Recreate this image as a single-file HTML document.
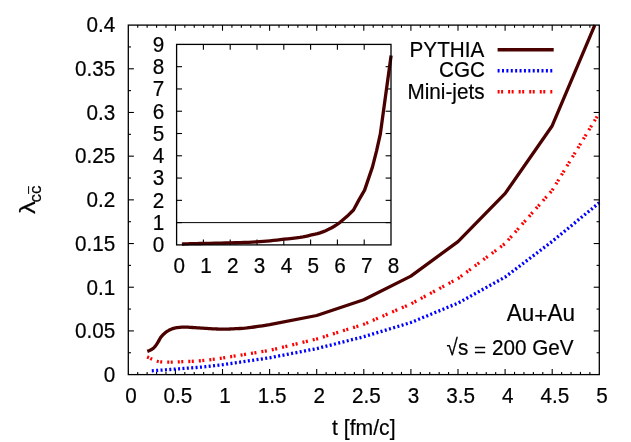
<!DOCTYPE html>
<html><head><meta charset="utf-8"><title>plot</title>
<style>
html,body{margin:0;padding:0;background:#fff;}
body{width:631px;height:442px;overflow:hidden;}
svg{display:block;will-change:transform;}
text{font-family:"Liberation Sans",sans-serif;fill:#000;stroke:#000;stroke-width:0.2px;}
</style></head><body>
<svg width="631" height="442" viewBox="0 0 631 442">
<rect x="0" y="0" width="631" height="442" fill="#fff"/>
<line x1="137.72" y1="374.60" x2="137.72" y2="371.90" stroke="#000" stroke-width="1.1"/>
<line x1="137.72" y1="25.10" x2="137.72" y2="27.80" stroke="#000" stroke-width="1.1"/>
<line x1="147.14" y1="374.60" x2="147.14" y2="371.90" stroke="#000" stroke-width="1.1"/>
<line x1="147.14" y1="25.10" x2="147.14" y2="27.80" stroke="#000" stroke-width="1.1"/>
<line x1="156.56" y1="374.60" x2="156.56" y2="371.90" stroke="#000" stroke-width="1.1"/>
<line x1="156.56" y1="25.10" x2="156.56" y2="27.80" stroke="#000" stroke-width="1.1"/>
<line x1="165.98" y1="374.60" x2="165.98" y2="371.90" stroke="#000" stroke-width="1.1"/>
<line x1="165.98" y1="25.10" x2="165.98" y2="27.80" stroke="#000" stroke-width="1.1"/>
<line x1="175.40" y1="374.60" x2="175.40" y2="369.00" stroke="#000" stroke-width="1.1"/>
<line x1="175.40" y1="25.10" x2="175.40" y2="30.70" stroke="#000" stroke-width="1.1"/>
<line x1="184.82" y1="374.60" x2="184.82" y2="371.90" stroke="#000" stroke-width="1.1"/>
<line x1="184.82" y1="25.10" x2="184.82" y2="27.80" stroke="#000" stroke-width="1.1"/>
<line x1="194.24" y1="374.60" x2="194.24" y2="371.90" stroke="#000" stroke-width="1.1"/>
<line x1="194.24" y1="25.10" x2="194.24" y2="27.80" stroke="#000" stroke-width="1.1"/>
<line x1="203.66" y1="374.60" x2="203.66" y2="371.90" stroke="#000" stroke-width="1.1"/>
<line x1="203.66" y1="25.10" x2="203.66" y2="27.80" stroke="#000" stroke-width="1.1"/>
<line x1="213.08" y1="374.60" x2="213.08" y2="371.90" stroke="#000" stroke-width="1.1"/>
<line x1="213.08" y1="25.10" x2="213.08" y2="27.80" stroke="#000" stroke-width="1.1"/>
<line x1="222.50" y1="374.60" x2="222.50" y2="369.00" stroke="#000" stroke-width="1.1"/>
<line x1="222.50" y1="25.10" x2="222.50" y2="30.70" stroke="#000" stroke-width="1.1"/>
<line x1="231.92" y1="374.60" x2="231.92" y2="371.90" stroke="#000" stroke-width="1.1"/>
<line x1="231.92" y1="25.10" x2="231.92" y2="27.80" stroke="#000" stroke-width="1.1"/>
<line x1="241.34" y1="374.60" x2="241.34" y2="371.90" stroke="#000" stroke-width="1.1"/>
<line x1="241.34" y1="25.10" x2="241.34" y2="27.80" stroke="#000" stroke-width="1.1"/>
<line x1="250.76" y1="374.60" x2="250.76" y2="371.90" stroke="#000" stroke-width="1.1"/>
<line x1="250.76" y1="25.10" x2="250.76" y2="27.80" stroke="#000" stroke-width="1.1"/>
<line x1="260.18" y1="374.60" x2="260.18" y2="371.90" stroke="#000" stroke-width="1.1"/>
<line x1="260.18" y1="25.10" x2="260.18" y2="27.80" stroke="#000" stroke-width="1.1"/>
<line x1="269.60" y1="374.60" x2="269.60" y2="369.00" stroke="#000" stroke-width="1.1"/>
<line x1="269.60" y1="25.10" x2="269.60" y2="30.70" stroke="#000" stroke-width="1.1"/>
<line x1="279.02" y1="374.60" x2="279.02" y2="371.90" stroke="#000" stroke-width="1.1"/>
<line x1="279.02" y1="25.10" x2="279.02" y2="27.80" stroke="#000" stroke-width="1.1"/>
<line x1="288.44" y1="374.60" x2="288.44" y2="371.90" stroke="#000" stroke-width="1.1"/>
<line x1="288.44" y1="25.10" x2="288.44" y2="27.80" stroke="#000" stroke-width="1.1"/>
<line x1="297.86" y1="374.60" x2="297.86" y2="371.90" stroke="#000" stroke-width="1.1"/>
<line x1="297.86" y1="25.10" x2="297.86" y2="27.80" stroke="#000" stroke-width="1.1"/>
<line x1="307.28" y1="374.60" x2="307.28" y2="371.90" stroke="#000" stroke-width="1.1"/>
<line x1="307.28" y1="25.10" x2="307.28" y2="27.80" stroke="#000" stroke-width="1.1"/>
<line x1="316.70" y1="374.60" x2="316.70" y2="369.00" stroke="#000" stroke-width="1.1"/>
<line x1="316.70" y1="25.10" x2="316.70" y2="30.70" stroke="#000" stroke-width="1.1"/>
<line x1="326.12" y1="374.60" x2="326.12" y2="371.90" stroke="#000" stroke-width="1.1"/>
<line x1="326.12" y1="25.10" x2="326.12" y2="27.80" stroke="#000" stroke-width="1.1"/>
<line x1="335.54" y1="374.60" x2="335.54" y2="371.90" stroke="#000" stroke-width="1.1"/>
<line x1="335.54" y1="25.10" x2="335.54" y2="27.80" stroke="#000" stroke-width="1.1"/>
<line x1="344.96" y1="374.60" x2="344.96" y2="371.90" stroke="#000" stroke-width="1.1"/>
<line x1="344.96" y1="25.10" x2="344.96" y2="27.80" stroke="#000" stroke-width="1.1"/>
<line x1="354.38" y1="374.60" x2="354.38" y2="371.90" stroke="#000" stroke-width="1.1"/>
<line x1="354.38" y1="25.10" x2="354.38" y2="27.80" stroke="#000" stroke-width="1.1"/>
<line x1="363.80" y1="374.60" x2="363.80" y2="369.00" stroke="#000" stroke-width="1.1"/>
<line x1="363.80" y1="25.10" x2="363.80" y2="30.70" stroke="#000" stroke-width="1.1"/>
<line x1="373.22" y1="374.60" x2="373.22" y2="371.90" stroke="#000" stroke-width="1.1"/>
<line x1="373.22" y1="25.10" x2="373.22" y2="27.80" stroke="#000" stroke-width="1.1"/>
<line x1="382.64" y1="374.60" x2="382.64" y2="371.90" stroke="#000" stroke-width="1.1"/>
<line x1="382.64" y1="25.10" x2="382.64" y2="27.80" stroke="#000" stroke-width="1.1"/>
<line x1="392.06" y1="374.60" x2="392.06" y2="371.90" stroke="#000" stroke-width="1.1"/>
<line x1="392.06" y1="25.10" x2="392.06" y2="27.80" stroke="#000" stroke-width="1.1"/>
<line x1="401.48" y1="374.60" x2="401.48" y2="371.90" stroke="#000" stroke-width="1.1"/>
<line x1="401.48" y1="25.10" x2="401.48" y2="27.80" stroke="#000" stroke-width="1.1"/>
<line x1="410.90" y1="374.60" x2="410.90" y2="369.00" stroke="#000" stroke-width="1.1"/>
<line x1="410.90" y1="25.10" x2="410.90" y2="30.70" stroke="#000" stroke-width="1.1"/>
<line x1="420.32" y1="374.60" x2="420.32" y2="371.90" stroke="#000" stroke-width="1.1"/>
<line x1="420.32" y1="25.10" x2="420.32" y2="27.80" stroke="#000" stroke-width="1.1"/>
<line x1="429.74" y1="374.60" x2="429.74" y2="371.90" stroke="#000" stroke-width="1.1"/>
<line x1="429.74" y1="25.10" x2="429.74" y2="27.80" stroke="#000" stroke-width="1.1"/>
<line x1="439.16" y1="374.60" x2="439.16" y2="371.90" stroke="#000" stroke-width="1.1"/>
<line x1="439.16" y1="25.10" x2="439.16" y2="27.80" stroke="#000" stroke-width="1.1"/>
<line x1="448.58" y1="374.60" x2="448.58" y2="371.90" stroke="#000" stroke-width="1.1"/>
<line x1="448.58" y1="25.10" x2="448.58" y2="27.80" stroke="#000" stroke-width="1.1"/>
<line x1="458.00" y1="374.60" x2="458.00" y2="369.00" stroke="#000" stroke-width="1.1"/>
<line x1="458.00" y1="25.10" x2="458.00" y2="30.70" stroke="#000" stroke-width="1.1"/>
<line x1="467.42" y1="374.60" x2="467.42" y2="371.90" stroke="#000" stroke-width="1.1"/>
<line x1="467.42" y1="25.10" x2="467.42" y2="27.80" stroke="#000" stroke-width="1.1"/>
<line x1="476.84" y1="374.60" x2="476.84" y2="371.90" stroke="#000" stroke-width="1.1"/>
<line x1="476.84" y1="25.10" x2="476.84" y2="27.80" stroke="#000" stroke-width="1.1"/>
<line x1="486.26" y1="374.60" x2="486.26" y2="371.90" stroke="#000" stroke-width="1.1"/>
<line x1="486.26" y1="25.10" x2="486.26" y2="27.80" stroke="#000" stroke-width="1.1"/>
<line x1="495.68" y1="374.60" x2="495.68" y2="371.90" stroke="#000" stroke-width="1.1"/>
<line x1="495.68" y1="25.10" x2="495.68" y2="27.80" stroke="#000" stroke-width="1.1"/>
<line x1="505.10" y1="374.60" x2="505.10" y2="369.00" stroke="#000" stroke-width="1.1"/>
<line x1="505.10" y1="25.10" x2="505.10" y2="30.70" stroke="#000" stroke-width="1.1"/>
<line x1="514.52" y1="374.60" x2="514.52" y2="371.90" stroke="#000" stroke-width="1.1"/>
<line x1="514.52" y1="25.10" x2="514.52" y2="27.80" stroke="#000" stroke-width="1.1"/>
<line x1="523.94" y1="374.60" x2="523.94" y2="371.90" stroke="#000" stroke-width="1.1"/>
<line x1="523.94" y1="25.10" x2="523.94" y2="27.80" stroke="#000" stroke-width="1.1"/>
<line x1="533.36" y1="374.60" x2="533.36" y2="371.90" stroke="#000" stroke-width="1.1"/>
<line x1="533.36" y1="25.10" x2="533.36" y2="27.80" stroke="#000" stroke-width="1.1"/>
<line x1="542.78" y1="374.60" x2="542.78" y2="371.90" stroke="#000" stroke-width="1.1"/>
<line x1="542.78" y1="25.10" x2="542.78" y2="27.80" stroke="#000" stroke-width="1.1"/>
<line x1="552.20" y1="374.60" x2="552.20" y2="369.00" stroke="#000" stroke-width="1.1"/>
<line x1="552.20" y1="25.10" x2="552.20" y2="30.70" stroke="#000" stroke-width="1.1"/>
<line x1="561.62" y1="374.60" x2="561.62" y2="371.90" stroke="#000" stroke-width="1.1"/>
<line x1="561.62" y1="25.10" x2="561.62" y2="27.80" stroke="#000" stroke-width="1.1"/>
<line x1="571.04" y1="374.60" x2="571.04" y2="371.90" stroke="#000" stroke-width="1.1"/>
<line x1="571.04" y1="25.10" x2="571.04" y2="27.80" stroke="#000" stroke-width="1.1"/>
<line x1="580.46" y1="374.60" x2="580.46" y2="371.90" stroke="#000" stroke-width="1.1"/>
<line x1="580.46" y1="25.10" x2="580.46" y2="27.80" stroke="#000" stroke-width="1.1"/>
<line x1="589.88" y1="374.60" x2="589.88" y2="371.90" stroke="#000" stroke-width="1.1"/>
<line x1="589.88" y1="25.10" x2="589.88" y2="27.80" stroke="#000" stroke-width="1.1"/>
<line x1="128.30" y1="352.76" x2="131.00" y2="352.76" stroke="#000" stroke-width="1.1"/>
<line x1="599.30" y1="352.76" x2="596.60" y2="352.76" stroke="#000" stroke-width="1.1"/>
<line x1="128.30" y1="330.91" x2="133.90" y2="330.91" stroke="#000" stroke-width="1.1"/>
<line x1="599.30" y1="330.91" x2="593.70" y2="330.91" stroke="#000" stroke-width="1.1"/>
<line x1="128.30" y1="309.07" x2="131.00" y2="309.07" stroke="#000" stroke-width="1.1"/>
<line x1="599.30" y1="309.07" x2="596.60" y2="309.07" stroke="#000" stroke-width="1.1"/>
<line x1="128.30" y1="287.23" x2="133.90" y2="287.23" stroke="#000" stroke-width="1.1"/>
<line x1="599.30" y1="287.23" x2="593.70" y2="287.23" stroke="#000" stroke-width="1.1"/>
<line x1="128.30" y1="265.38" x2="131.00" y2="265.38" stroke="#000" stroke-width="1.1"/>
<line x1="599.30" y1="265.38" x2="596.60" y2="265.38" stroke="#000" stroke-width="1.1"/>
<line x1="128.30" y1="243.54" x2="133.90" y2="243.54" stroke="#000" stroke-width="1.1"/>
<line x1="599.30" y1="243.54" x2="593.70" y2="243.54" stroke="#000" stroke-width="1.1"/>
<line x1="128.30" y1="221.69" x2="131.00" y2="221.69" stroke="#000" stroke-width="1.1"/>
<line x1="599.30" y1="221.69" x2="596.60" y2="221.69" stroke="#000" stroke-width="1.1"/>
<line x1="128.30" y1="199.85" x2="133.90" y2="199.85" stroke="#000" stroke-width="1.1"/>
<line x1="599.30" y1="199.85" x2="593.70" y2="199.85" stroke="#000" stroke-width="1.1"/>
<line x1="128.30" y1="178.01" x2="131.00" y2="178.01" stroke="#000" stroke-width="1.1"/>
<line x1="599.30" y1="178.01" x2="596.60" y2="178.01" stroke="#000" stroke-width="1.1"/>
<line x1="128.30" y1="156.16" x2="133.90" y2="156.16" stroke="#000" stroke-width="1.1"/>
<line x1="599.30" y1="156.16" x2="593.70" y2="156.16" stroke="#000" stroke-width="1.1"/>
<line x1="128.30" y1="134.32" x2="131.00" y2="134.32" stroke="#000" stroke-width="1.1"/>
<line x1="599.30" y1="134.32" x2="596.60" y2="134.32" stroke="#000" stroke-width="1.1"/>
<line x1="128.30" y1="112.48" x2="133.90" y2="112.48" stroke="#000" stroke-width="1.1"/>
<line x1="599.30" y1="112.48" x2="593.70" y2="112.48" stroke="#000" stroke-width="1.1"/>
<line x1="128.30" y1="90.63" x2="131.00" y2="90.63" stroke="#000" stroke-width="1.1"/>
<line x1="599.30" y1="90.63" x2="596.60" y2="90.63" stroke="#000" stroke-width="1.1"/>
<line x1="128.30" y1="68.79" x2="133.90" y2="68.79" stroke="#000" stroke-width="1.1"/>
<line x1="599.30" y1="68.79" x2="593.70" y2="68.79" stroke="#000" stroke-width="1.1"/>
<line x1="128.30" y1="46.94" x2="131.00" y2="46.94" stroke="#000" stroke-width="1.1"/>
<line x1="599.30" y1="46.94" x2="596.60" y2="46.94" stroke="#000" stroke-width="1.1"/>
<path d="M151.80,370.80 L153.55,370.67 L156.06,370.49 L158.85,370.28 L161.40,370.10 L163.61,369.95 L165.72,369.80 L167.83,369.65 L170.00,369.50 L172.27,369.33 L174.60,369.16 L176.93,368.98 L179.20,368.80 L181.39,368.62 L183.54,368.44 L185.67,368.27 L187.80,368.10 L189.91,367.95 L192.01,367.81 L194.12,367.66 L196.30,367.50 L198.59,367.32 L200.94,367.12 L203.31,366.92 L205.60,366.70 L207.81,366.46 L209.96,366.21 L212.09,365.95 L214.20,365.70 L216.49,365.43 L218.89,365.14 L221.02,364.88 L222.50,364.70 L269.60,357.80 L316.70,348.60 L363.80,336.70 L410.90,322.50 L458.00,303.10 L505.10,277.10 L552.20,241.40 L599.30,202.70" fill="none" stroke="#0000ff" stroke-width="3.3" stroke-dasharray="2.0 2.39"/>
<path d="M147.10,357.00 L147.48,357.13 L148.03,357.31 L148.66,357.54 L149.30,357.80 L149.92,358.11 L150.57,358.46 L151.26,358.83 L152.00,359.20 L152.81,359.58 L153.68,359.97 L154.59,360.36 L155.50,360.70 L156.41,361.00 L157.32,361.27 L158.28,361.51 L159.30,361.70 L160.39,361.84 L161.53,361.93 L162.73,362.00 L164.00,362.05 L165.24,362.09 L166.49,362.12 L167.91,362.12 L169.70,362.10 L171.98,362.05 L174.64,361.98 L177.45,361.89 L180.20,361.80 L182.87,361.71 L185.56,361.62 L188.24,361.52 L190.90,361.40 L193.52,361.26 L196.12,361.10 L198.71,360.92 L201.30,360.70 L203.89,360.44 L206.47,360.15 L209.07,359.83 L211.70,359.50 L214.62,359.11 L217.75,358.68 L220.55,358.28 L222.50,358.00 L269.60,350.40 L316.70,339.00 L363.80,324.30 L410.90,303.90 L458.00,278.50 L505.10,243.60 L552.20,190.30 L599.30,112.90" fill="none" stroke="#ff0000" stroke-width="3.3" stroke-dasharray="2.0 1.5 2.0 5.04"/>
<path d="M147.30,351.40 L147.97,351.14 L148.93,350.77 L150.00,350.31 L151.00,349.80 L151.90,349.24 L152.78,348.62 L153.65,347.92 L154.50,347.10 L155.33,346.14 L156.14,345.05 L156.93,343.89 L157.70,342.70 L158.44,341.44 L159.14,340.11 L159.85,338.79 L160.60,337.60 L161.40,336.55 L162.23,335.59 L163.07,334.71 L163.90,333.90 L164.70,333.18 L165.47,332.54 L166.27,331.96 L167.10,331.40 L167.99,330.85 L168.91,330.32 L169.86,329.84 L170.80,329.40 L171.73,329.01 L172.66,328.67 L173.61,328.37 L174.60,328.10 L175.64,327.87 L176.72,327.69 L177.84,327.53 L179.00,327.40 L180.20,327.29 L181.43,327.19 L182.70,327.13 L184.00,327.10 L185.33,327.11 L186.69,327.16 L188.09,327.22 L189.50,327.30 L190.91,327.38 L192.32,327.48 L193.80,327.59 L195.40,327.70 L197.18,327.82 L199.09,327.94 L201.06,328.07 L203.00,328.20 L204.93,328.33 L206.88,328.46 L208.78,328.59 L210.60,328.70 L212.27,328.79 L213.84,328.88 L215.39,328.94 L217.00,329.00 L218.71,329.04 L220.47,329.08 L222.22,329.09 L223.90,329.10 L225.50,329.09 L227.05,329.08 L228.55,329.04 L230.00,329.00 L231.28,328.94 L232.44,328.88 L233.70,328.79 L235.30,328.70 L237.39,328.61 L239.81,328.51 L242.35,328.38 L244.80,328.20 L246.97,327.98 L249.02,327.71 L251.26,327.39 L254.00,327.00 L257.82,326.45 L262.38,325.77 L266.65,325.14 L269.60,324.70 L316.70,315.50 L363.80,299.80 L410.90,276.10 L458.00,241.60 L505.20,193.40 L551.90,126.30 L594.80,25.10" fill="none" stroke="#4b0000" stroke-width="3.3" stroke-linejoin="round"/>
<rect x="128.3" y="25.1" width="471.00" height="349.50" fill="none" stroke="#000" stroke-width="1.3"/>
<rect x="176.6" y="44.4" width="214.40" height="200.50" fill="#fff" stroke="none"/>
<line x1="203.40" y1="244.90" x2="203.40" y2="239.50" stroke="#000" stroke-width="1.1"/>
<line x1="203.40" y1="44.40" x2="203.40" y2="49.80" stroke="#000" stroke-width="1.1"/>
<line x1="230.20" y1="244.90" x2="230.20" y2="239.50" stroke="#000" stroke-width="1.1"/>
<line x1="230.20" y1="44.40" x2="230.20" y2="49.80" stroke="#000" stroke-width="1.1"/>
<line x1="257.00" y1="244.90" x2="257.00" y2="239.50" stroke="#000" stroke-width="1.1"/>
<line x1="257.00" y1="44.40" x2="257.00" y2="49.80" stroke="#000" stroke-width="1.1"/>
<line x1="283.80" y1="244.90" x2="283.80" y2="239.50" stroke="#000" stroke-width="1.1"/>
<line x1="283.80" y1="44.40" x2="283.80" y2="49.80" stroke="#000" stroke-width="1.1"/>
<line x1="310.60" y1="244.90" x2="310.60" y2="239.50" stroke="#000" stroke-width="1.1"/>
<line x1="310.60" y1="44.40" x2="310.60" y2="49.80" stroke="#000" stroke-width="1.1"/>
<line x1="337.40" y1="244.90" x2="337.40" y2="239.50" stroke="#000" stroke-width="1.1"/>
<line x1="337.40" y1="44.40" x2="337.40" y2="49.80" stroke="#000" stroke-width="1.1"/>
<line x1="364.20" y1="244.90" x2="364.20" y2="239.50" stroke="#000" stroke-width="1.1"/>
<line x1="364.20" y1="44.40" x2="364.20" y2="49.80" stroke="#000" stroke-width="1.1"/>
<line x1="176.60" y1="222.62" x2="182.00" y2="222.62" stroke="#000" stroke-width="1.1"/>
<line x1="391.00" y1="222.62" x2="385.60" y2="222.62" stroke="#000" stroke-width="1.1"/>
<line x1="176.60" y1="200.34" x2="182.00" y2="200.34" stroke="#000" stroke-width="1.1"/>
<line x1="391.00" y1="200.34" x2="385.60" y2="200.34" stroke="#000" stroke-width="1.1"/>
<line x1="176.60" y1="178.07" x2="182.00" y2="178.07" stroke="#000" stroke-width="1.1"/>
<line x1="391.00" y1="178.07" x2="385.60" y2="178.07" stroke="#000" stroke-width="1.1"/>
<line x1="176.60" y1="155.79" x2="182.00" y2="155.79" stroke="#000" stroke-width="1.1"/>
<line x1="391.00" y1="155.79" x2="385.60" y2="155.79" stroke="#000" stroke-width="1.1"/>
<line x1="176.60" y1="133.51" x2="182.00" y2="133.51" stroke="#000" stroke-width="1.1"/>
<line x1="391.00" y1="133.51" x2="385.60" y2="133.51" stroke="#000" stroke-width="1.1"/>
<line x1="176.60" y1="111.23" x2="182.00" y2="111.23" stroke="#000" stroke-width="1.1"/>
<line x1="391.00" y1="111.23" x2="385.60" y2="111.23" stroke="#000" stroke-width="1.1"/>
<line x1="176.60" y1="88.96" x2="182.00" y2="88.96" stroke="#000" stroke-width="1.1"/>
<line x1="391.00" y1="88.96" x2="385.60" y2="88.96" stroke="#000" stroke-width="1.1"/>
<line x1="176.60" y1="66.68" x2="182.00" y2="66.68" stroke="#000" stroke-width="1.1"/>
<line x1="391.00" y1="66.68" x2="385.60" y2="66.68" stroke="#000" stroke-width="1.1"/>
<line x1="176.60" y1="222.62" x2="391.00" y2="222.62" stroke="#000" stroke-width="1.0"/>
<path d="M181.90,244.10 L183.31,244.02 L185.33,243.91 L187.65,243.80 L190.00,243.70 L192.12,243.64 L194.21,243.60 L196.70,243.56 L200.00,243.50 L204.46,243.42 L209.77,243.32 L215.37,243.21 L220.70,243.10 L225.70,242.99 L230.63,242.87 L235.43,242.74 L240.00,242.60 L244.32,242.45 L248.44,242.29 L252.39,242.11 L256.20,241.90 L259.81,241.66 L263.23,241.41 L266.59,241.12 L270.00,240.80 L273.46,240.44 L276.92,240.04 L280.44,239.63 L284.10,239.20 L288.08,238.77 L292.28,238.34 L296.36,237.88 L300.00,237.40 L303.03,236.88 L305.65,236.33 L308.07,235.77 L310.50,235.20 L312.90,234.69 L315.20,234.22 L317.52,233.66 L320.00,232.90 L322.76,231.88 L325.69,230.66 L328.61,229.34 L331.30,228.00 L333.88,226.50 L336.41,224.84 L338.58,223.34 L340.10,222.30 L346.80,216.60 L353.50,210.00 L358.95,199.90 L364.60,190.10 L372.50,166.90 L376.50,151.10 L380.30,134.20 L391.10,55.50" fill="none" stroke="#4b0000" stroke-width="3.3" stroke-linejoin="round"/>
<rect x="176.6" y="44.4" width="214.40" height="200.50" fill="none" stroke="#000" stroke-width="1.3"/>
<line x1="497.6" y1="49.7" x2="553.7" y2="49.7" stroke="#4b0000" stroke-width="3.5"/>
<line x1="497.6" y1="70.7" x2="553.7" y2="70.7" stroke="#0000ff" stroke-width="3.5" stroke-dasharray="2.0 2.39"/>
<line x1="497.6" y1="91.8" x2="553.7" y2="91.8" stroke="#ff0000" stroke-width="3.5" stroke-dasharray="2.0 1.5 2.0 5.04"/>
<text transform="translate(130.90,402.70) scale(1,1.1)" text-anchor="middle" font-size="20.7" >0</text>
<text transform="translate(178.00,402.70) scale(1,1.1)" text-anchor="middle" font-size="20.7" >0.5</text>
<text transform="translate(225.10,402.70) scale(1,1.1)" text-anchor="middle" font-size="20.7" >1</text>
<text transform="translate(272.20,402.70) scale(1,1.1)" text-anchor="middle" font-size="20.7" >1.5</text>
<text transform="translate(319.30,402.70) scale(1,1.1)" text-anchor="middle" font-size="20.7" >2</text>
<text transform="translate(366.40,402.70) scale(1,1.1)" text-anchor="middle" font-size="20.7" >2.5</text>
<text transform="translate(413.50,402.70) scale(1,1.1)" text-anchor="middle" font-size="20.7" >3</text>
<text transform="translate(460.60,402.70) scale(1,1.1)" text-anchor="middle" font-size="20.7" >3.5</text>
<text transform="translate(507.70,402.70) scale(1,1.1)" text-anchor="middle" font-size="20.7" >4</text>
<text transform="translate(554.80,402.70) scale(1,1.1)" text-anchor="middle" font-size="20.7" >4.5</text>
<text transform="translate(601.90,402.70) scale(1,1.1)" text-anchor="middle" font-size="20.7" >5</text>
<text transform="translate(115.20,381.90) scale(1,1.1)" text-anchor="end" font-size="20.7" >0</text>
<text transform="translate(115.20,338.21) scale(1,1.1)" text-anchor="end" font-size="20.7" >0.05</text>
<text transform="translate(115.20,294.53) scale(1,1.1)" text-anchor="end" font-size="20.7" >0.1</text>
<text transform="translate(115.20,250.84) scale(1,1.1)" text-anchor="end" font-size="20.7" >0.15</text>
<text transform="translate(115.20,207.15) scale(1,1.1)" text-anchor="end" font-size="20.7" >0.2</text>
<text transform="translate(115.20,163.46) scale(1,1.1)" text-anchor="end" font-size="20.7" >0.25</text>
<text transform="translate(115.20,119.78) scale(1,1.1)" text-anchor="end" font-size="20.7" >0.3</text>
<text transform="translate(115.20,76.09) scale(1,1.1)" text-anchor="end" font-size="20.7" >0.35</text>
<text transform="translate(115.20,32.40) scale(1,1.1)" text-anchor="end" font-size="20.7" >0.4</text>
<text transform="translate(179.20,273.00) scale(1,1.1)" text-anchor="middle" font-size="20.7" >0</text>
<text transform="translate(206.00,273.00) scale(1,1.1)" text-anchor="middle" font-size="20.7" >1</text>
<text transform="translate(232.80,273.00) scale(1,1.1)" text-anchor="middle" font-size="20.7" >2</text>
<text transform="translate(259.60,273.00) scale(1,1.1)" text-anchor="middle" font-size="20.7" >3</text>
<text transform="translate(286.40,273.00) scale(1,1.1)" text-anchor="middle" font-size="20.7" >4</text>
<text transform="translate(313.20,273.00) scale(1,1.1)" text-anchor="middle" font-size="20.7" >5</text>
<text transform="translate(340.00,273.00) scale(1,1.1)" text-anchor="middle" font-size="20.7" >6</text>
<text transform="translate(366.80,273.00) scale(1,1.1)" text-anchor="middle" font-size="20.7" >7</text>
<text transform="translate(393.60,273.00) scale(1,1.1)" text-anchor="middle" font-size="20.7" >8</text>
<text transform="translate(164.20,252.20) scale(1,1.1)" text-anchor="end" font-size="20.7" >0</text>
<text transform="translate(164.20,229.92) scale(1,1.1)" text-anchor="end" font-size="20.7" >1</text>
<text transform="translate(164.20,207.64) scale(1,1.1)" text-anchor="end" font-size="20.7" >2</text>
<text transform="translate(164.20,185.37) scale(1,1.1)" text-anchor="end" font-size="20.7" >3</text>
<text transform="translate(164.20,163.09) scale(1,1.1)" text-anchor="end" font-size="20.7" >4</text>
<text transform="translate(164.20,140.81) scale(1,1.1)" text-anchor="end" font-size="20.7" >5</text>
<text transform="translate(164.20,118.53) scale(1,1.1)" text-anchor="end" font-size="20.7" >6</text>
<text transform="translate(164.20,96.26) scale(1,1.1)" text-anchor="end" font-size="20.7" >7</text>
<text transform="translate(164.20,73.98) scale(1,1.1)" text-anchor="end" font-size="20.7" >8</text>
<text transform="translate(164.20,51.70) scale(1,1.1)" text-anchor="end" font-size="20.7" >9</text>
<text transform="translate(363.8,434.5) scale(1,1.06)" text-anchor="middle" font-size="21.15">t [fm/c]</text>
<text transform="translate(484.30,56.50) scale(1,1.1)" text-anchor="end" font-size="20.7" >PYTHIA</text>
<text transform="translate(485.00,77.20) scale(1,1.1)" text-anchor="end" font-size="20.7" >CGC</text>
<text transform="translate(484.50,98.90) scale(1,1.1)" text-anchor="end" font-size="20.7" >Mini-jets</text>
<text transform="translate(575.00,321.00) scale(1,1.1)" text-anchor="end" font-size="22.5" >Au</text>
<text transform="translate(534.36,321.00) scale(1,1.1)" text-anchor="end" font-size="22.5" >Au</text>
<text transform="translate(540.93,322.6) scale(1,0.97)" text-anchor="middle" font-size="22.5">+</text>
<text transform="translate(573.60,355.40) scale(1,1.1)" text-anchor="end" font-size="20.7" >200 GeV</text>
<text transform="translate(468.30,355.40) scale(1,1.1)" text-anchor="end" font-size="20.7" >&#8730;s</text>
<text transform="translate(480.1,356.1) scale(1,0.86)" text-anchor="middle" font-size="20.7">=</text>
<g transform="translate(35.2,214.0) rotate(-90)"><text transform="scale(1.17,1)" x="0" y="0" font-size="22">&#955;</text><text x="11.6" y="5.7" font-size="17">cc</text><line x1="20.1" y1="-6.6" x2="27.8" y2="-6.6" stroke="#000" stroke-width="1.0"/></g>
</svg>
</body></html>
